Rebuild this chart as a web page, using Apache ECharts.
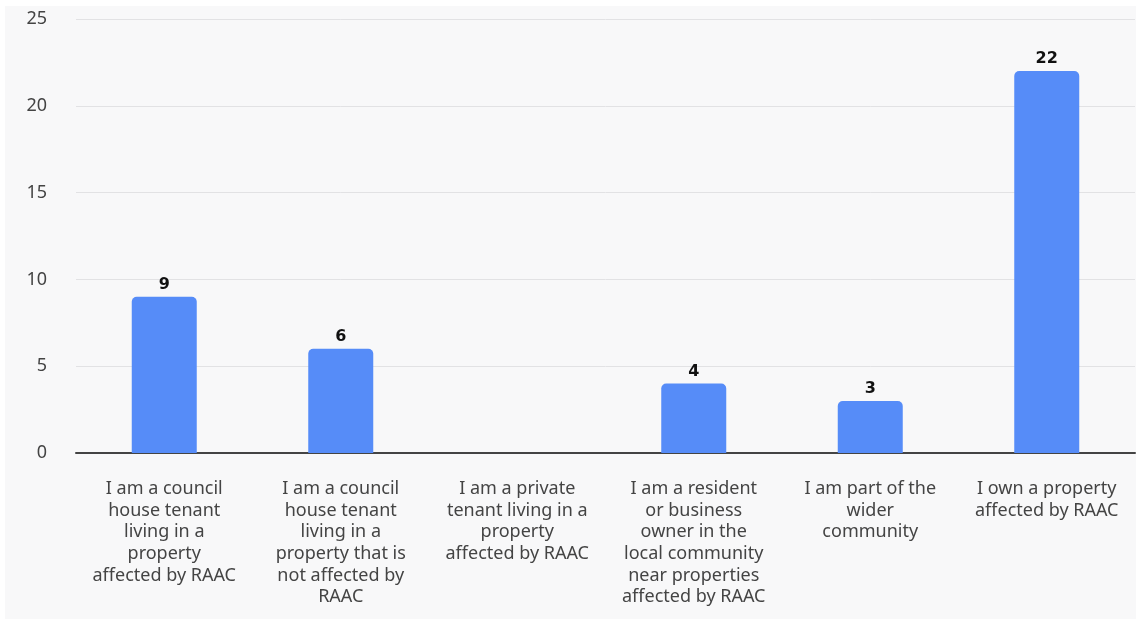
<!DOCTYPE html>
<html><head><meta charset="utf-8">
<script src="https://cdn.jsdelivr.net/npm/echarts@6/dist/echarts.min.js"></script>
<style>html,body{margin:0;padding:0;background:#fff;}#c{position:absolute;left:5px;top:6px;width:1131px;height:613px;background:#f8f8f9;}</style>
</head><body><div id="c"></div>
<script>
const categories = [
  "I am a council\nhouse tenant\nliving in a\nproperty\naffected by RAAC",
  "I am a council\nhouse tenant\nliving in a\nproperty that is\nnot affected by\nRAAC",
  "I am a private\ntenant living in a\nproperty\naffected by RAAC",
  "I am a resident\nor business\nowner in the\nlocal community\nnear properties\naffected by RAAC",
  "I am part of the\nwider\ncommunity",
  "I own a property\naffected by RAAC"
];
const values = [9, 6, 0, 4, 3, 22];
const yTicks = [0, 5, 10, 15, 20, 25];

const chart = echarts.init(document.getElementById('c'), null, {renderer:'canvas'});
chart.setOption({
  backgroundColor: '#f8f8f9',
  animation: false,
  grid: {left: 71, right: 1, top: 13, bottom: 166, containLabel: false},
  xAxis: {
    type: 'category', data: categories,
    axisTick: {show: false},
    axisLine: {lineStyle: {color: '#444', width: 2}},
    axisLabel: {interval: 0, color: '#444', fontSize: 18, lineHeight: 21.7, fontFamily: 'Noto Sans', margin: 25, align: 'center', verticalAlign: 'top'}
  },
  yAxis: {
    type: 'value', min: yTicks[0], max: yTicks[yTicks.length-1], interval: 5,
    axisLine: {show: false}, axisTick: {show: false},
    splitLine: {lineStyle: {color: '#e2e2e4', width: 1}},
    axisLabel: {color: '#444', fontSize: 18, fontFamily: 'Noto Sans', margin: 29, align: 'right'}
  },
  series: [{
    type: 'bar', data: values.map(v => v === 0 ? null : v), barWidth: 65,
    itemStyle: {color: '#568cf8', borderRadius: [5,5,0,0]},
    label: {show: true, position: 'top', distance: 4, color: '#111', fontWeight: 'bold', fontSize: 16, fontFamily: 'DejaVu Sans'}
  }]
});
</script></body></html>
